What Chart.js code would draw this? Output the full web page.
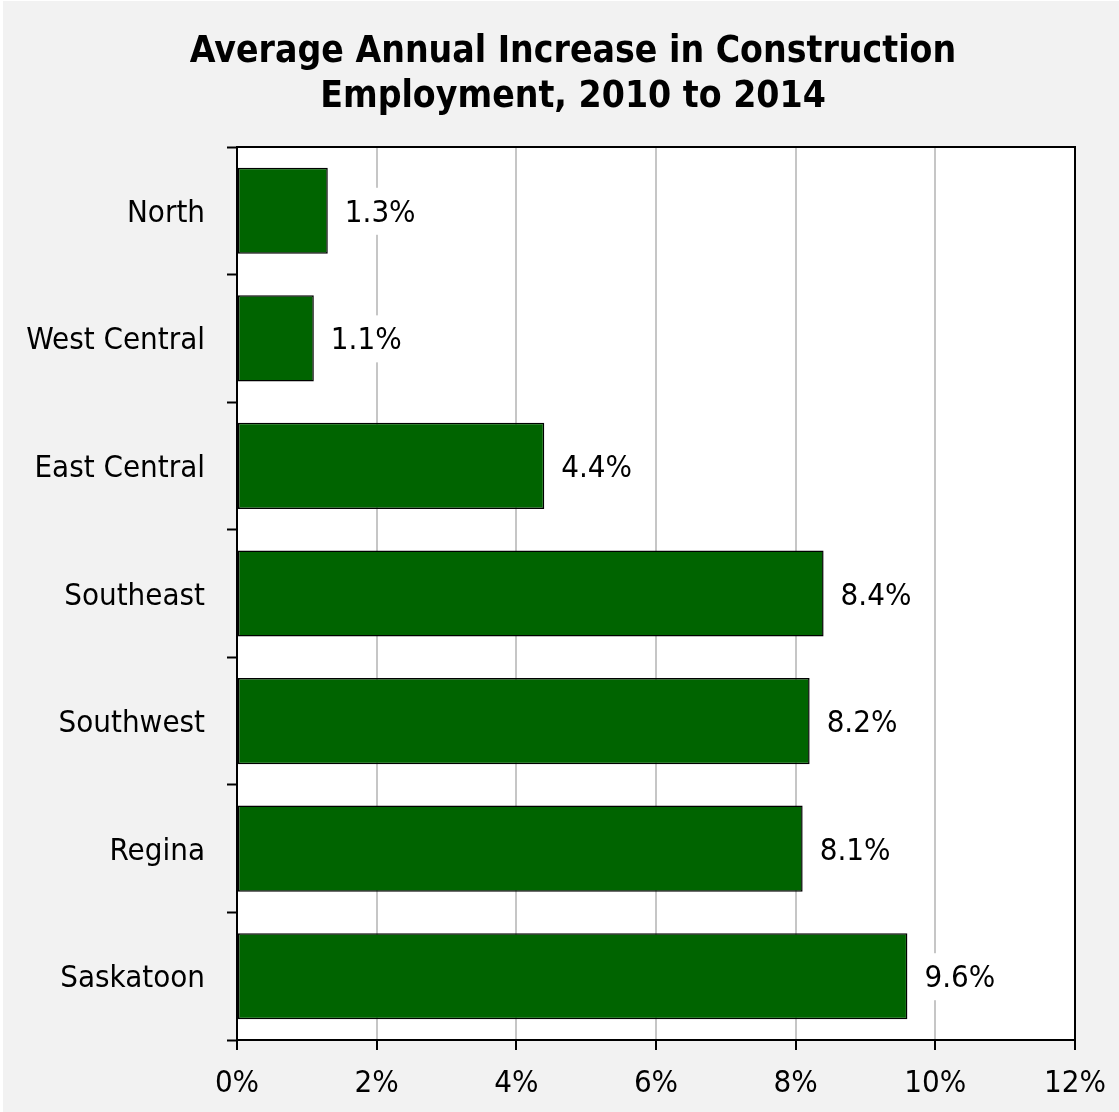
<!DOCTYPE html>
<html>
<head>
<meta charset="utf-8">
<title>Average Annual Increase in Construction Employment, 2010 to 2014</title>
<script src="https://cdn.jsdelivr.net/npm/chart.js@4/dist/chart.umd.min.js"></script>
<style>
  html, body { margin: 0; padding: 0; background: #ffffff; }
  #wrap { position: absolute; left: 0; top: 0; width: 1119px; height: 1112px; }
</style>
</head>
<body>
<div id="wrap"><canvas id="chart" width="1119" height="1112"></canvas></div>
<script>
// Regions and their average annual growth in construction employment (%)
const regions = ['North', 'West Central', 'East Central', 'Southeast', 'Southwest', 'Regina', 'Saskatoon'];
const growthPct = [1.3, 1.1, 4.4, 8.4, 8.2, 8.1, 9.6];
const titleLines = ['Average Annual Increase in Construction', 'Employment, 2010 to 2014'];
const axisMin = 0, axisMax = 12, axisStep = 2;

const FONT = "'DejaVu Sans Condensed', 'DejaVu Sans', Verdana, sans-serif";
const LABEL_SIZE = 31;

// Light grey panel behind everything, white plot area
const backdrop = {
  id: 'backdrop',
  beforeDraw(chart) {
    const ctx = chart.ctx, a = chart.chartArea;
    ctx.save();
    ctx.fillStyle = '#f2f2f2';
    ctx.fillRect(3, 1, chart.width - 3, chart.height - 1);
    ctx.fillStyle = '#ffffff';
    ctx.fillRect(a.left, a.top, a.right - a.left, a.bottom - a.top);
    ctx.restore();
  }
};

// Two-line bold heading centred over the panel
const heading = {
  id: 'heading',
  afterDraw(chart) {
    const ctx = chart.ctx;
    ctx.save();
    ctx.font = 'bold 37px ' + FONT;
    ctx.fillStyle = '#000000';
    ctx.textAlign = 'center';
    ctx.textBaseline = 'alphabetic';
    const cx = 573, firstBaseline = 62, step = 45;
    titleLines.forEach((line, i) => ctx.fillText(line, cx, firstBaseline + i * step));
    ctx.restore();
  }
};

// Black frame around the plot area (top and right edges)
const frame = {
  id: 'frame',
  afterDatasetsDraw(chart) {
    const ctx = chart.ctx, a = chart.chartArea;
    ctx.save();
    ctx.strokeStyle = '#000000';
    ctx.lineWidth = 2;
    ctx.beginPath();
    ctx.moveTo(a.left, a.top);
    ctx.lineTo(a.right, a.top);
    ctx.lineTo(a.right, a.bottom);
    ctx.stroke();
    ctx.restore();
  }
};

// Value labels to the right of each bar, on a white backing
const valueLabels = {
  id: 'valueLabels',
  afterDatasetsDraw(chart) {
    const ctx = chart.ctx;
    const meta = chart.getDatasetMeta(0);
    ctx.save();
    ctx.font = LABEL_SIZE + 'px ' + FONT;
    ctx.textBaseline = 'middle';
    ctx.textAlign = 'left';
    meta.data.forEach((bar, i) => {
      const text = growthPct[i].toFixed(1) + '%';
      const x = bar.x + 17;
      const w = ctx.measureText(text).width;
      ctx.fillStyle = '#ffffff';
      ctx.fillRect(x - 4, bar.y - 23, w + 8, 47);
      ctx.fillStyle = '#000000';
      ctx.fillText(text, x, bar.y + 3);
    });
    ctx.restore();
  }
};

new Chart(document.getElementById('chart'), {
  type: 'bar',
  data: {
    labels: regions,
    datasets: [{
      data: growthPct,
      backgroundColor: '#006400',
      borderColor: '#000000',
      borderWidth: 1.5,
      borderSkipped: false,
      barPercentage: 0.675,
      categoryPercentage: 1.0
    }]
  },
  options: {
    indexAxis: 'y',
    responsive: false,
    animation: false,
    layout: { padding: { left: 0, right: 44, top: 147, bottom: 0 } },
    plugins: {
      legend: { display: false },
      tooltip: { enabled: false },
      title: { display: false }
    },
    scales: {
      x: {
        type: 'linear',
        min: axisMin,
        max: axisMax,
        afterFit(scale) {
          scale.height = 72;
          scale.paddingLeft = 0;
          scale.paddingRight = 0;
        },
        ticks: {
          stepSize: axisStep,
          color: '#000000',
          font: { family: FONT, size: LABEL_SIZE },
          padding: 15,
          callback: v => v + '%'
        },
        grid: {
          color: '#c6c6c6',
          lineWidth: 2,
          tickColor: '#000000',
          tickWidth: 2,
          tickLength: 10
        },
        border: { color: '#000000', width: 2 }
      },
      y: {
        type: 'category',
        offset: true,
        afterFit(scale) {
          scale.width = 237;
          scale.paddingTop = 0;
          scale.paddingBottom = 0;
        },
        ticks: {
          color: '#000000',
          font: { family: FONT, size: LABEL_SIZE },
          padding: 22,
          labelOffset: 3
        },
        grid: {
          offset: true,
          drawOnChartArea: false,
          tickColor: '#000000',
          tickWidth: 2,
          tickLength: 10
        },
        border: { color: '#000000', width: 2 }
      }
    }
  },
  plugins: [backdrop, frame, valueLabels, heading]
});
</script>
</body>
</html>
